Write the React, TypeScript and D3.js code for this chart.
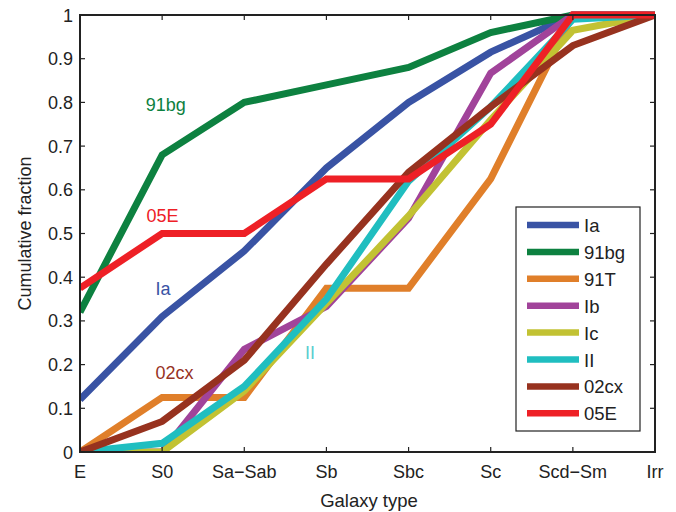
import * as d3 from 'd3'
import React from 'react'

const galaxyTypes = ['E', 'S0', 'Sa\u2212Sab', 'Sb', 'Sbc', 'Sc', 'Scd\u2212Sm', 'Irr']
const seriesNames = ['Ia', '91bg', '91T', 'Ib', 'Ic', 'II', '02cx', '05E']
const seriesColors = ['#3953a4', '#0d8140', '#e07f2a', '#a1439a', '#c2c233', '#20bec0', '#97321f', '#ee2026']

const ia = [0.12, 0.31, 0.46, 0.65, 0.80, 0.915, 1, 1]
const bg91 = [0.32, 0.68, 0.80, 0.84, 0.88, 0.96, 1, 1]
const t91 = [0, 0.125, 0.125, 0.375, 0.375, 0.625, 1, 1]
const ib = [0, 0, 0.235, 0.333, 0.535, 0.867, 1, 1]
const ic = [0, 0, 0.14, 0.34, 0.54, 0.76, 0.965, 1]
const ii = [0, 0.02, 0.15, 0.35, 0.62, 0.79, 0.99, 1]
const cx02 = [0, 0.07, 0.21, 0.43, 0.64, 0.79, 0.93, 1]
const e05 = [0.375, 0.5, 0.5, 0.625, 0.625, 0.75, 1, 1]

const yTicks = [0, 0.1, 0.2, 0.3, 0.4, 0.5, 0.6, 0.7, 0.8, 0.9, 1]

// in-plot labels: series index, category position, value at baseline
const inlineLabels = [
  {s: 1, x: 0.80, y: 0.78},
  {s: 7, x: 0.81, y: 0.526},
  {s: 0, x: 0.92, y: 0.36},
  {s: 6, x: 0.92, y: 0.167},
  {s: 5, x: 2.74, y: 0.213},
]

export default function App() {
  const margin = {top: 15, right: 21, bottom: 60, left: 80}
  const width = 676, height = 512
  const font = 'Liberation Sans, Arial, Helvetica, sans-serif'
  const data = [ia, bg91, t91, ib, ic, ii, cx02, e05]

  const x = d3.scaleLinear().domain([0, galaxyTypes.length - 1]).range([margin.left, width - margin.right])
  const y = d3.scaleLinear().domain([0, 1]).range([height - margin.bottom, margin.top])
  const line = d3.line<number>().x((d, i) => x(i)).y(d => y(d))

  const x0 = x.range()[0], x1 = x.range()[1]
  const y0 = y.range()[0], y1 = y.range()[1]
  const tick = 5

  const lg = {x: 516, y: 207, w: 124, h: 224, row: 26.9}

  return (
    <svg width={width} height={height} style={{position: 'absolute', left: 0, top: 0}} fontFamily={font}>
      <rect x={0} y={0} width={width} height={height} fill="#fff" />
      <defs>
        <clipPath id="plot"><rect x={x0} y={y1 - 4} width={x1 - x0} height={y0 - y1 + 4} /></clipPath>
      </defs>
      <g clipPath="url(#plot)">
        {data.map((vals, i) => (
          <path key={seriesNames[i]} d={line(vals) || ''} fill="none" stroke={seriesColors[i]} strokeWidth={7} strokeLinejoin="miter" />
        ))}
      </g>
      {/* box + ticks */}
      <rect x={x0} y={y1} width={x1 - x0} height={y0 - y1} fill="none" stroke="#222" strokeWidth={2} />
      {galaxyTypes.map((t, i) => (
        <g key={t}>
          <line x1={x(i)} x2={x(i)} y1={y0} y2={y0 - tick} stroke="#222" strokeWidth={1.2} />
          <line x1={x(i)} x2={x(i)} y1={y1} y2={y1 + tick} stroke="#222" strokeWidth={1.2} />
          <text x={x(i)} y={478} textAnchor="middle" fontSize={18} fill="#222">{t}</text>
        </g>
      ))}
      {yTicks.map(v => (
        <g key={v}>
          <line x1={x0} x2={x0 + tick} y1={y(v)} y2={y(v)} stroke="#222" strokeWidth={1.2} />
          <line x1={x1} x2={x1 - tick} y1={y(v)} y2={y(v)} stroke="#222" strokeWidth={1.2} />
          <text x={x0 - 7} y={y(v) + 6.5} textAnchor="end" fontSize={18} fill="#222">{d3.format('~g')(v)}</text>
        </g>
      ))}
      <text x={369} y={507} textAnchor="middle" fontSize={18.5} fill="#222">Galaxy type</text>
      <text transform={`translate(31,${(y0 + y1) / 2}) rotate(-90)`} textAnchor="middle" fontSize={18} fill="#222">Cumulative fraction</text>
      {inlineLabels.map(l => (
        <text key={l.s} x={x(l.x)} y={y(l.y)} fontSize={18} fill={seriesColors[l.s]} opacity={l.s === 5 ? 0.75 : 1}>{seriesNames[l.s]}</text>
      ))}
      {/* legend */}
      <rect x={lg.x} y={lg.y} width={lg.w} height={lg.h} fill="#fff" stroke="#222" strokeWidth={1.2} />
      {seriesNames.map((n, i) => (
        <g key={n}>
          <line x1={lg.x + 11} x2={lg.x + 63} y1={lg.y + 18 + i * lg.row} y2={lg.y + 18 + i * lg.row} stroke={seriesColors[i]} strokeWidth={6.5} />
          <text x={lg.x + 68} y={lg.y + 25 + i * lg.row} fontSize={18.5} fill="#222">{n}</text>
        </g>
      ))}
    </svg>
  )
}
